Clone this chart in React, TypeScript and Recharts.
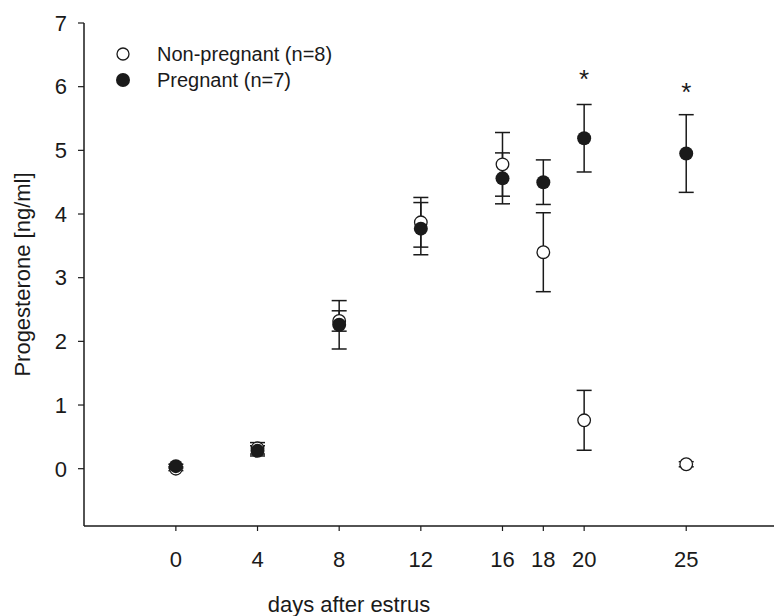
import React from 'react';
import { ScatterChart, Scatter, XAxis, YAxis, ErrorBar, Legend, Label } from 'recharts';

const days = [0, 4, 8, 12, 16, 18, 20, 25];
const nonPregMean = [0.0, 0.32, 2.32, 3.87, 4.78, 3.4, 0.76, 0.07];
const nonPregSem = [0.03, 0.09, 0.16, 0.39, 0.5, 0.62, 0.47, 0.04];
const pregMean = [0.04, 0.28, 2.26, 3.77, 4.56, 4.5, 5.19, 4.95];
const pregSem = [0.03, 0.08, 0.38, 0.41, 0.4, 0.35, 0.53, 0.61];
const starDays = [20, 25];
const starY = [6.2, 6.01];
const xTicks = [0, 4, 8, 12, 16, 18, 20, 25];
const yTicks = [0, 1, 2, 3, 4, 5, 6, 7];
const seriesNames = ['Non-pregnant (n=8)', 'Pregnant (n=7)'];

const FONT = '"Liberation Sans", Arial, sans-serif';
const INK = '#1a1a1a';

const nonPreg = days.map((d, i) => ({ x: d, y: nonPregMean[i], err: nonPregSem[i] }));
const preg = days.map((d, i) => ({ x: d, y: pregMean[i], err: pregSem[i] }));
const stars = starDays.map((d, i) => ({ x: d, y: starY[i] }));

const HollowDot = (p: any) => (
  <circle cx={p.cx} cy={p.cy} r={6.3} fill="#fff" stroke={INK} strokeWidth={1.3} />
);
const FilledDot = (p: any) => <circle cx={p.cx} cy={p.cy} r={7} fill={INK} />;
const Star = (p: any) => (
  <text x={p.cx} y={p.cy + 14.5} textAnchor="middle" fontSize={26} fontFamily={FONT} fill={INK}>
    *
  </text>
);

// legend drawn by hand, open then filled circle
function LegendBox() {
  return (
    <div style={{ fontFamily: FONT, fontSize: 20, color: INK }}>
      {seriesNames.map((name, i) => (
        <div key={name} style={{ display: 'flex', alignItems: 'center', height: 26 }}>
          <svg width={16} height={16}>
            {i === 0 ? (
              <circle cx={8} cy={8} r={6} fill="#fff" stroke={INK} strokeWidth={1.3} />
            ) : (
              <circle cx={8} cy={8} r={7} fill={INK} />
            )}
          </svg>
          <span style={{ marginLeft: 26, lineHeight: '26px' }}>{name}</span>
        </div>
      ))}
    </div>
  );
}

export default function App() {
  const tick = { fontSize: 22, fontFamily: FONT, fill: INK };
  return (
    <div style={{ position: 'absolute', left: 0, top: 0 }}>
      <ScatterChart width={775} height={616} margin={{ top: 23, right: 1, bottom: 0, left: 0 }}>
        <XAxis
          type="number"
          dataKey="x"
          domain={[-4.5, 29.3]}
          ticks={xTicks}
          allowDataOverflow
          height={90}
          tick={tick}
          tickSize={5}
          tickMargin={20}
          axisLine={{ stroke: INK, strokeWidth: 1.5 }}
          tickLine={{ stroke: INK, strokeWidth: 1.2 }}
        >
          <Label
            value="days after estrus"
            position="insideBottom"
            offset={4}
            dx={-80}
            style={{ fontSize: 22, fontFamily: FONT, fill: INK }}
          />
        </XAxis>
        <YAxis
          type="number"
          dataKey="y"
          domain={[-0.9, 7]}
          ticks={yTicks}
          allowDataOverflow
          width={84}
          tick={tick}
          tickSize={6}
          tickMargin={11}
          axisLine={{ stroke: INK, strokeWidth: 1.5 }}
          tickLine={{ stroke: INK, strokeWidth: 1.2 }}
        >
          <Label
            value="Progesterone [ng/ml]"
            angle={-90}
            position="insideLeft"
            offset={22}
            style={{ fontSize: 22, fontFamily: FONT, fill: INK, textAnchor: 'middle' }}
          />
        </YAxis>
        <Legend
          layout="horizontal"
          verticalAlign="middle"
          align="center"
          content={() => <LegendBox />}
          wrapperStyle={{ position: 'absolute', left: 115, top: 41, width: 'auto' }}
        />
        <Scatter name={seriesNames[0]} data={nonPreg} shape={HollowDot} isAnimationActive={false}>
          <ErrorBar dataKey="err" direction="y" width={7.5} stroke={INK} strokeWidth={1.5} isAnimationActive={false} />
        </Scatter>
        <Scatter name={seriesNames[1]} data={preg} shape={FilledDot} isAnimationActive={false}>
          <ErrorBar dataKey="err" direction="y" width={7.5} stroke={INK} strokeWidth={1.5} isAnimationActive={false} />
        </Scatter>
        <Scatter name="sig" data={stars} shape={Star} legendType="none" isAnimationActive={false} />
      </ScatterChart>
    </div>
  );
}
